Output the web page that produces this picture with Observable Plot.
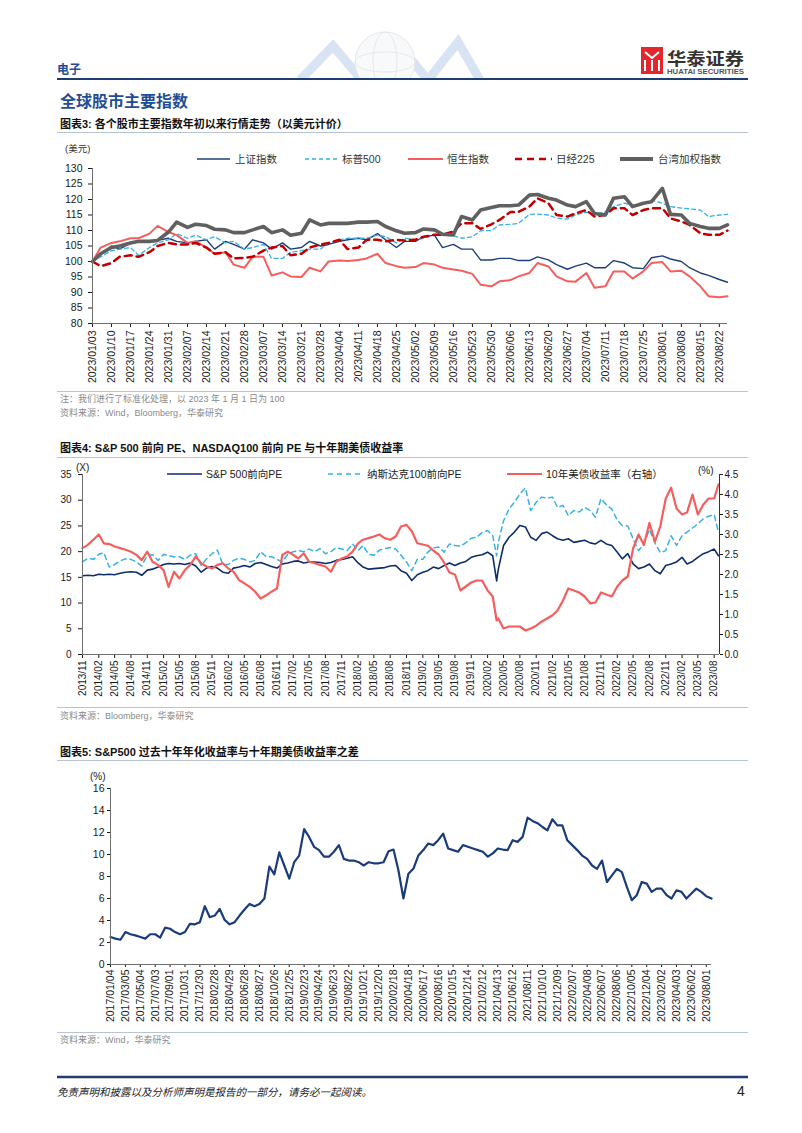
<!DOCTYPE html>
<html><head><meta charset="utf-8">
<script src="https://cdn.jsdelivr.net/npm/d3@7"></script>
<script src="https://cdn.jsdelivr.net/npm/@observablehq/plot@0.6"></script>
<style>
body{margin:0;background:#fff;}
#page{position:relative;width:802px;height:1133px;overflow:hidden;background:#fff;}
.chart{position:absolute;left:0;}
</style></head>
<body><div id="page"></div>
<script>
// ---------- Chart 1 data (indexed to 100, USD) ----------
const c1Dates = ["01/03","01/06","01/10","01/13","01/17","01/20","01/24","01/27","01/31","02/03","02/07","02/10","02/14","02/17","02/21","02/24","02/28","03/03","03/07","03/10","03/14","03/17","03/21","03/24","03/28","03/31","04/04","04/07","04/11","04/14","04/18","04/21","04/25","04/28","05/02","05/05","05/09","05/12","05/16","05/19","05/23","05/26","05/30","06/02","06/06","06/09","06/13","06/16","06/20","06/23","06/27","06/30","07/04","07/07","07/11","07/14","07/18","07/21","07/25","07/28","08/01","08/04","08/08","08/11","08/15","08/18","08/22","08/25"];
const shanghai = [100,102.5,105,104,106,106.3,106.5,106.8,107.5,106.5,106,106.5,107,104,106.5,105.5,104,107,106,104,106,104,104.5,106.5,105,105.5,106.5,107,107.5,107,109,107,104.5,106.5,106.5,108,108.5,104.5,105.5,104,104,100.5,100.5,101,101,100.3,100.3,101.5,100.5,99,97.5,98.5,99.5,98,98,100.3,99.5,98,97.7,101.2,101.8,100.8,100,98,96.3,95.5,94.2,93.3];
const sp500 = [100,101.5,103.5,104,104.5,102,104.5,106,107,109,107.5,108.5,107,108,106,106.5,104,104.5,105.5,101,101,103,103.5,104,104,106,107,107.5,107.5,107.5,108.5,108,106,107.5,107,107.5,108.5,108.4,108.3,107.5,108,109.9,110,111.8,112,112.3,115.2,115.3,115,114,113.7,115,115.9,115.2,116,117.7,118.8,118.2,118.8,119.8,118.8,117.7,117.2,117,116.6,114.5,115,115.2];
const hangseng = [100,104.5,106,106.5,107.5,107.5,109,111.5,109.5,108.5,106,106.5,104.5,102.5,103,99,98,101.5,101.5,95.5,96.5,95.2,95,98,96.8,100,100.3,100.2,100.5,101,102.5,99.5,98.5,98,98.2,99.5,99,98,97.4,97,96,92.5,92,93.6,94,95.2,96.3,99.5,98.4,95.2,93.6,93.5,96.3,91.5,92,96.8,96.8,94.5,96.8,99.5,99.8,96.8,97,95.2,92,88.8,88.5,88.8];
const nikkei = [100,98.5,99.5,101.5,102,101.5,103,105,106,105.5,105.5,106,104.5,102.5,103,101,101.2,101.5,103.5,104.5,105,102,102.5,104.5,105.5,106,107,104,104.5,107,107,106.5,107,106.8,107,108,108.6,108.6,109.7,112.3,112.3,110.5,112,113.4,116,116,117.7,120.4,118.8,115,114.5,115.5,116.6,114.5,115,117.2,117.2,115,116.6,117.2,117.2,113.9,112.9,111.8,109.1,108.6,108.6,110];
const taiwan = [100,102.5,104.5,105,106,106.5,106.5,106.8,109.5,112.7,111,112,111.6,110.4,110.2,109.3,109.3,110.2,111.3,109.3,110.2,108.5,109.1,113.4,111.8,112.3,112.3,112.3,112.7,112.7,112.9,111.3,109.9,109.1,109.3,110.5,110.2,108.8,108.6,114.5,113.4,116.6,117.4,118,118,118.2,121.4,121.6,120.4,119.8,118.2,117.7,119.3,115.5,115,120.4,120.9,117.7,118.8,119.3,123.6,115.2,115,112.3,111.3,110.7,110.7,111.8];
const c1Names = ["上证指数","标普500","恒生指数","日经225","台湾加权指数"];
const c1Ticks = d3.utcDay.range(new Date("2023-01-03"), new Date("2023-08-23"), 7);
const c1YTicks = [80,85,90,95,100,105,110,115,120,125,130];

// ---------- Chart 2 data (monthly from 2013/11, plus 2020-03-23 and 2023-08-25) ----------
const peDates = d3.utcMonth.range(new Date("2013-11-01"), new Date("2023-08-02"));
peDates.splice(77, 0, new Date("2020-03-23"));
peDates.push(new Date("2023-08-25"));
const spPE = [15.3,15.4,15.3,15.6,15.5,15.6,15.5,15.8,16.0,16.1,16.0,15.4,16.4,16.6,17.0,17.5,17.7,17.6,17.7,17.5,17.8,17.2,16.0,16.8,17.1,16.8,16.0,15.8,16.8,17.0,17.3,17.0,17.7,17.9,17.5,17.1,16.8,17.6,17.8,18.1,18.2,17.8,18.0,18.0,17.9,17.7,17.9,18.3,18.5,18.7,19.0,17.8,17.0,16.6,16.7,16.8,16.9,17.2,17.3,16.3,15.8,14.4,15.5,
  16.0,16.3,17.0,16.7,17.3,17.8,17.3,17.8,18.1,18.9,19.2,19.4,19.9,
  19.2,14.3,16.5,21.2,22.8,23.8,25.1,24.8,22.8,22.2,23.5,23.8,23.1,22.5,22.2,22.5,21.8,22.0,22.2,21.7,21.5,22.2,21.5,21.2,19.9,18.6,19.6,17.6,16.7,17.0,17.6,16.3,15.7,17.3,17.6,18.0,18.9,17.6,18.1,18.9,19.6,20.0,20.5,19.2];
const ndxPE = [18.0,18.7,18.5,19.5,19.8,17.0,17.5,18.2,18.6,18.5,18.0,17.2,19.3,19.4,18.3,19.5,19.2,19.0,19.0,18.5,19.3,19.6,17.3,18.6,19.6,20.3,17.5,17.5,18.3,18.7,18.5,18.0,18.3,20.0,19.0,19.0,18.5,18.0,19.5,20.0,20.2,20.0,20.5,20.0,20.6,19.6,20.0,20.8,20.5,20.2,21.5,20.2,21.2,19.5,19.3,20.3,20.6,20.8,20.5,19.3,18.0,16.3,18.5,
  18.5,19.9,20.7,20.9,19.9,21.5,21.2,21.1,21.7,22.6,22.8,23.7,24.1,
  23.1,19.2,21.8,26.0,28.3,29.6,31.2,32.4,28.0,29.6,30.6,30.4,30.6,28.6,29.0,27.0,28.0,27.7,28.6,28.0,26.7,30.3,29.1,28.3,26.1,25.1,25.0,22.5,20.2,21.5,24.3,21.7,19.8,20.2,23.1,21.2,23.1,23.8,24.6,25.4,26.4,26.9,27.2,23.8];
const ust10y = [2.66,2.74,2.87,3.0,2.78,2.76,2.7,2.66,2.62,2.57,2.49,2.36,2.57,2.32,2.24,2.11,1.69,2.07,1.9,2.11,2.24,2.45,2.28,2.2,2.15,2.24,2.28,2.15,2.07,1.86,1.78,1.69,1.57,1.4,1.48,1.57,1.65,2.49,2.57,2.49,2.4,2.53,2.32,2.28,2.24,2.2,2.07,2.32,2.4,2.45,2.57,2.78,2.87,2.91,2.95,3.0,2.91,2.87,2.95,3.2,3.24,3.08,2.78,
  2.75,2.72,2.6,2.5,2.3,2.05,2.0,1.6,1.7,1.8,1.85,1.85,1.6,
  1.45,0.85,0.9,0.65,0.7,0.7,0.7,0.6,0.65,0.72,0.82,0.9,0.98,1.1,1.35,1.65,1.6,1.55,1.45,1.28,1.3,1.55,1.5,1.45,1.7,1.85,1.95,2.65,3.0,2.74,3.29,2.82,3.2,3.9,4.17,3.65,3.5,3.55,4.0,3.5,3.75,3.9,3.9,4.25];
const c2Names = ["S&P 500前向PE","纳斯达克100前向PE","10年美债收益率（右轴）"];
const peTicks = d3.utcMonth.range(new Date("2013-11-01"), new Date("2023-08-02"), 3);
const peYTicks = [0,5,10,15,20,25,30,35];
const yieldTicks = [0,0.5,1,1.5,2,2.5,3,3.5,4,4.5];

// ---------- Chart 3 data (every 20 days from 2017/01/04, plus 2023-08-22) ----------
const gapDates = d3.utcDay.range(new Date("2017-01-04"), new Date("2023-08-02"), 20);
gapDates.push(new Date("2023-08-22"));
const gapValues = [2.5,2.35,2.25,2.95,2.75,2.65,2.5,2.35,2.75,2.75,2.45,3.35,3.25,2.95,2.75,2.95,3.7,3.65,3.85,5.3,4.3,4.45,5.05,4.05,3.65,3.85,4.45,5.0,5.5,5.3,5.5,6.0,8.9,8.2,10.2,9.0,7.8,9.3,9.9,12.3,
  11.6,10.7,10.4,9.8,9.8,10.25,10.85,9.6,9.45,9.45,9.3,9.0,9.3,9.2,9.2,9.3,10.3,10.45,8.55,6.0,8.25,8.7,9.9,10.4,11.0,10.85,11.3,11.9,10.55,10.4,10.25,10.85,10.7,10.55,10.4,10.25,9.8,10.1,10.55,10.45,
  10.4,11.3,11.15,11.6,13.35,13.05,12.85,12.5,12.2,13.2,12.65,12.65,11.3,10.85,10.4,9.9,9.6,9.0,8.7,9.45,7.5,8.1,8.7,8.4,7.05,5.85,6.3,7.5,7.35,6.6,6.9,6.9,6.3,6.0,6.75,6.6,6.0,6.45,6.9,6.6,6.2,
  6.0];
const gapTicks = d3.utcDay.range(new Date("2017-01-04"), new Date("2023-08-02"), 60);
const gapYTicks = [0,2,4,6,8,10,12,14,16];

// ---------- styles ----------
const CJK = "'Noto Sans CJK SC', sans-serif";
const LAT = "'Liberation Sans', Arial, 'Noto Sans CJK SC', sans-serif";
const NAVY = "#1F3F7A", LBLUE = "#36B2E6", SALMON = "#F45F5E", DRED = "#C00000", GRAY = "#606060";
const AX = "#6f6f6f";
const plotStyle = {fontFamily: "'Liberation Sans', Arial, sans-serif", fontSize: "10px", color: "#1a1a1a", background: "transparent", overflow: "visible"};

const page = d3.select("#page");
const decor = page.append("svg").attr("width", 802).attr("height", 1133)
  .style("position", "absolute").style("left", 0).style("top", 0);

// header decoration (globe & chevrons)
const deco = decor.append("g").attr("opacity", 0.55);
deco.append("polyline").attr("points", "300,80 333,46 362,80 395,40 428,80 458,42 480,80")
  .attr("fill", "none").attr("stroke", "#b9cfea").attr("stroke-width", 9);
deco.append("circle").attr("cx", 385).attr("cy", 62).attr("r", 30).attr("fill", "#f3f5f8").attr("stroke", "#cfd6df");
deco.append("ellipse").attr("cx", 385).attr("cy", 62).attr("rx", 12).attr("ry", 30).attr("fill", "none").attr("stroke", "#cfd6df");
deco.append("ellipse").attr("cx", 385).attr("cy", 62).attr("rx", 30).attr("ry", 10).attr("fill", "none").attr("stroke", "#cfd6df");
decor.append("rect").attr("x", 280).attr("y", 80).attr("width", 220).attr("height", 20).attr("fill", "#fff");

// logo
decor.append("rect").attr("x", 641).attr("y", 47).attr("width", 22).attr("height", 27).attr("fill", "#E3262B");
decor.append("path").attr("d", "M645,52 L652,58 L659,52 M645,60 L645,71 M652,60 L652,71 M659,60 L659,71")
  .attr("stroke", "#fff").attr("stroke-width", 2).attr("fill", "none");

function txt(x, y, s, o = {}) {
  decor.append("text").attr("x", x).attr("y", y).attr("dominant-baseline", "central")
    .attr("font-family", o.family || LAT).attr("font-size", o.size || 10)
    .attr("font-weight", o.weight || "normal").attr("font-style", o.style || "normal")
    .attr("fill", o.fill || "#222").attr("text-anchor", o.anchor || "start")
    .attr("textLength", o.len || null).attr("lengthAdjust", o.len ? "spacingAndGlyphs" : null)
    .text(s);
}
function hline(y, x1, x2, color, w) {
  decor.append("line").attr("x1", x1).attr("x2", x2).attr("y1", y).attr("y2", y)
    .attr("stroke", color).attr("stroke-width", w);
}
function sample(x1, x2, y, color, w, dash) {
  decor.append("line").attr("x1", x1).attr("x2", x2).attr("y1", y).attr("y2", y)
    .attr("stroke", color).attr("stroke-width", w).attr("stroke-dasharray", dash || null);
}

txt(667, 57, "华泰证券", {family: CJK, size: 17, weight: "bold", fill: "#333", len: 77});
txt(667, 71, "HUATAI SECURITIES", {size: 7, weight: "bold", fill: "#555", len: 77});
txt(57, 68, "电子", {family: CJK, size: 12, weight: "bold", fill: "#1F4E96"});
hline(79, 57, 748, "#1F3D73", 2);
txt(60, 100, "全球股市主要指数", {family: CJK, size: 16, weight: "bold", fill: "#1F4E96"});
txt(60, 124, "图表3:  各个股市主要指数年初以来行情走势（以美元计价）", {size: 11, weight: "bold", fill: "#111"});
hline(132.5, 57, 748, "#B9C4D2", 1);

// chart 1 labels / legend
txt(65, 148, "(美元)", {size: 9.5, fill: "#333"});
const c1Leg = [[197, 230, 235, NAVY, 1.6, null], [305, 337, 342, LBLUE, 1.4, "4,3"], [408, 443, 447, SALMON, 2, null], [515, 552, 556, DRED, 2.6, "7,5"], [620, 653, 658, GRAY, 4, null]];
c1Leg.forEach((d, i) => { sample(d[0], d[1], 159, d[3], d[4], d[5]); txt(d[2], 159, c1Names[i], {size: 10.5, fill: "#333"}); });
hline(391.5, 57, 748, "#B9C4D2", 1);
txt(60, 399, "注：我们进行了标准化处理，以 2023 年 1 月 1 日为 100", {size: 9, fill: "#8a8a8a"});
txt(60, 413, "资料来源：Wind，Bloomberg，华泰研究", {size: 9, fill: "#8a8a8a"});

// chart 2 labels / legend
txt(60, 448, "图表4:  S&P 500 前向 PE、NASDAQ100 前向 PE 与十年期美债收益率", {size: 11, weight: "bold", fill: "#111"});
hline(457.5, 57, 748, "#B9C4D2", 1);
txt(76, 467, "(X)", {size: 10, fill: "#222"});
txt(698, 470, "(%)", {size: 10, fill: "#222"});
const c2Leg = [[167, 202, 206, "#0E2D6B", 1.6, null], [328, 362, 367, LBLUE, 1.5, "5,4"], [507, 542, 546, SALMON, 2.2, null]];
c2Leg.forEach((d, i) => { sample(d[0], d[1], 474, d[3], d[4], d[5]); txt(d[2], 474, c2Names[i], {size: 10.5, fill: "#222"}); });
hline(707.5, 57, 748, "#B9C4D2", 1);
txt(60, 716, "资料来源：Bloomberg，华泰研究", {size: 9, fill: "#8a8a8a"});

// chart 3 labels
txt(60, 752, "图表5:  S&P500 过去十年年化收益率与十年期美债收益率之差", {size: 11, weight: "bold", fill: "#111"});
hline(760.5, 57, 748, "#B9C4D2", 1);
txt(90, 776, "(%)", {size: 10, fill: "#222"});
hline(1032.5, 57, 748, "#B9C4D2", 1);
txt(60, 1040, "资料来源：Wind，华泰研究", {size: 9, fill: "#8a8a8a"});

// footer
hline(1077, 57, 748, "#1F3D73", 2.5);
txt(57, 1091, "免责声明和披露以及分析师声明是报告的一部分，请务必一起阅读。", {family: CJK, size: 10.5, style: "italic", fill: "#222"});
txt(737, 1091, "4", {size: 14, fill: "#222"});

// ---------- Chart 1 ----------
const c1Parsed = c1Dates.map(s => new Date("2023-" + s.replace("/", "-")));
const c1Series = [shanghai, sp500, hangseng, nikkei, taiwan];
const c1Style = [[NAVY, 1.4, null], [LBLUE, 1.3, "4,3"], [SALMON, 2, null], [DRED, 2.5, "7,5"], [GRAY, 3.6, null]];
const c1 = Plot.plot({
  width: 802, height: 250, marginLeft: 92, marginRight: 75, marginTop: 28, marginBottom: 67,
  style: plotStyle,
  x: {type: "utc", domain: [new Date("2023-01-03"), new Date("2023-08-25")]},
  y: {domain: [80, 130]},
  marks: [
    Plot.axisY({ticks: c1YTicks, tickSize: 4, tickPadding: 6, label: null, fontSize: 10.5}),
    Plot.axisX({ticks: c1Ticks, tickFormat: d3.utcFormat("%Y/%m/%d"), tickRotate: -90, tickSize: 4, tickPadding: 3, label: null, fontSize: 10.5}),
    ...c1Series.map((vals, i) => Plot.line(vals.map((v, j) => ({date: c1Parsed[j], value: v})),
      {x: "date", y: "value", stroke: c1Style[i][0], strokeWidth: c1Style[i][1], strokeDasharray: c1Style[i][2]})),
    Plot.ruleX([new Date("2023-01-03")], {stroke: AX}),
    Plot.ruleY([80], {stroke: AX})
  ]
});
page.append("div").attr("class", "chart").style("top", "140px").node().appendChild(c1);

// ---------- Chart 2 ----------
const yr = 35 / 4.5;
const c2 = Plot.plot({
  width: 802, height: 250, marginLeft: 82, marginRight: 83, marginTop: 19, marginBottom: 51,
  style: plotStyle,
  x: {type: "utc", domain: [new Date("2013-11-01"), new Date("2023-08-31")]},
  y: {domain: [0, 35]},
  marks: [
    Plot.axisY({anchor: "left", ticks: peYTicks, tickSize: 4, tickPadding: 7, label: null}),
    Plot.axisY({anchor: "right", ticks: yieldTicks.map(v => v * yr), tickFormat: v => (v / yr).toFixed(1), tickSize: 3, tickPadding: 2, label: null}),
    Plot.axisX({ticks: peTicks, tickFormat: d3.utcFormat("%Y/%m"), tickRotate: -90, tickSize: 4, tickPadding: 2, label: null}),
    Plot.line(spPE.map((v, j) => ({date: peDates[j], value: v})), {x: "date", y: "value", stroke: "#0E2D6B", strokeWidth: 1.6}),
    Plot.line(ndxPE.map((v, j) => ({date: peDates[j], value: v})), {x: "date", y: "value", stroke: LBLUE, strokeWidth: 1.5, strokeDasharray: "5,4"}),
    Plot.line(ust10y.map((v, j) => ({date: peDates[j], value: v * yr})), {x: "date", y: "value", stroke: SALMON, strokeWidth: 2.2}),
    Plot.ruleX([new Date("2013-11-01")], {stroke: AX}),
    Plot.ruleX([new Date("2023-08-31")], {stroke: "#333"}),
    Plot.ruleY([0], {stroke: AX})
  ]
});
page.append("div").attr("class", "chart").style("top", "455px").node().appendChild(c2);

// ---------- Chart 3 ----------
const c3 = Plot.plot({
  width: 802, height: 255, marginLeft: 110, marginRight: 91, marginTop: 13, marginBottom: 66,
  style: plotStyle,
  x: {type: "utc", domain: [new Date("2017-01-04"), new Date("2023-08-22")]},
  y: {domain: [0, 16]},
  marks: [
    Plot.axisY({ticks: gapYTicks, tickSize: 3, tickPadding: 3, label: null, fontSize: 10.5}),
    Plot.axisX({ticks: gapTicks, tickFormat: d3.utcFormat("%Y/%m/%d"), tickRotate: -90, tickSize: 3, tickPadding: 2, label: null, fontSize: 10.5}),
    Plot.line(gapValues.map((v, j) => ({date: gapDates[j], value: v})), {x: "date", y: "value", stroke: "#1A3C7D", strokeWidth: 2.2}),
    Plot.ruleX([new Date("2017-01-04")], {stroke: AX}),
    Plot.ruleY([0], {stroke: AX})
  ]
});
page.append("div").attr("class", "chart").style("top", "775px").node().appendChild(c3);
</script>
</body></html>
